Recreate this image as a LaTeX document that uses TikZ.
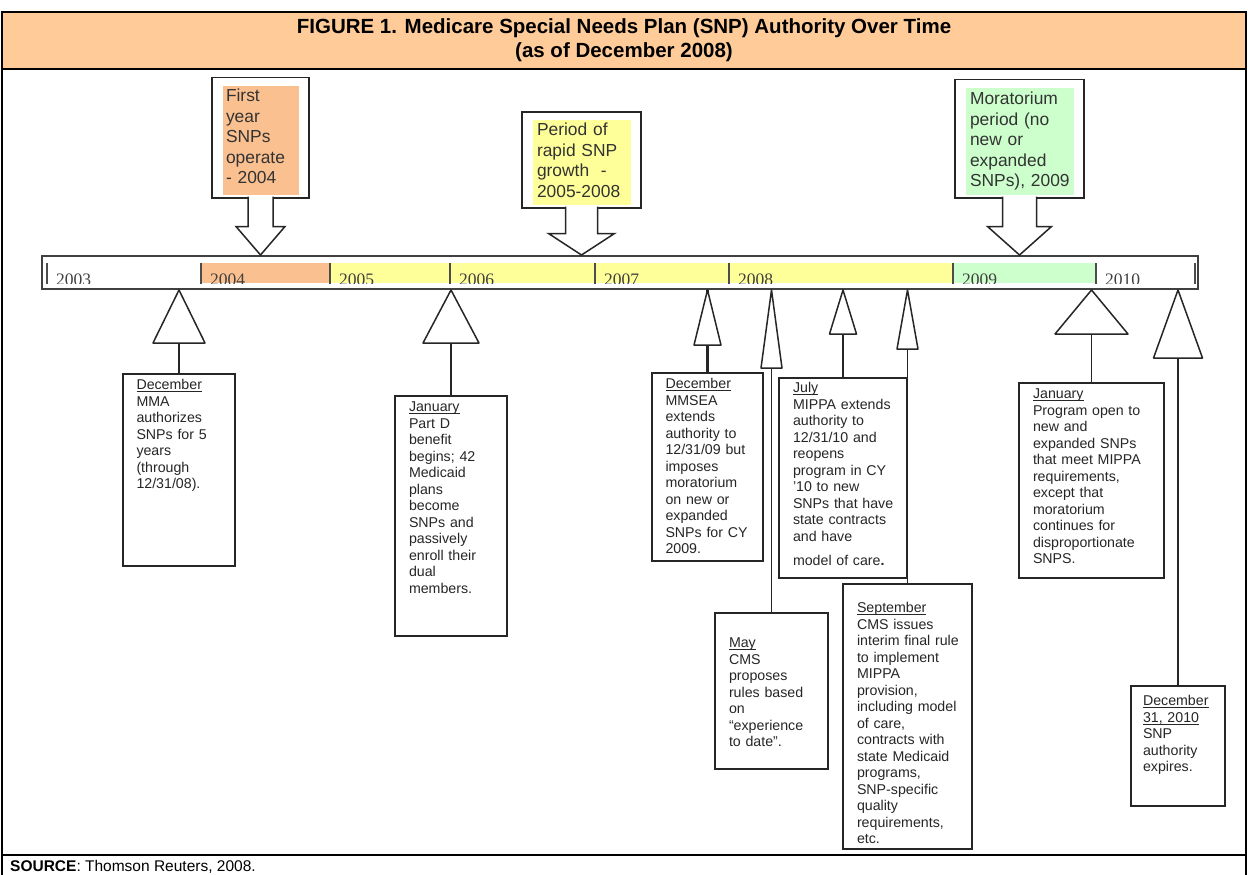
\documentclass[tikz,border=0pt]{standalone}
\usepackage{fontspec}
\setmainfont{Liberation Sans}
\newfontfamily\yearfont{Liberation Serif}
\usetikzlibrary{calc}
\definecolor{titleOrange}{HTML}{FFCC99}
\definecolor{bandOrange}{HTML}{FAC090}
\definecolor{bandYellow}{HTML}{FFFF99}
\definecolor{bandGreen}{HTML}{CCFFCC}
\newcommand{\monthUl}[1]{\setbox0=\hbox{#1}\rlap{\rule[-2.2pt]{\wd0}{0.9pt}}\box0}

\begin{document}
\begin{tikzpicture}[
  x=1pt, y=-1pt,
  frame/.style={draw=black, line width=2.5pt},
  evt/.style={
    draw=black!85, line width=1.5pt, fill=white, anchor=north, inner sep=0pt,
    font=\fontsize{14.2}{16.5}\selectfont, text=black!85
  },
  callout/.style={
    draw=black!85, line width=1.5pt, fill=white, anchor=north, inner sep=0pt,
    font=\fontsize{17.4}{20.5}\selectfont, text=black!80,
    path picture={\fill[#1] ([xshift=11pt,yshift=-8pt]path picture bounding box.north west)
      rectangle ([xshift=-10pt,yshift=2.5pt]path picture bounding box.south east);}
  },
  calloutArrow/.style={draw=black!85, line width=1.5pt, fill=white},
  pointer/.style={draw=black!85, line width=1.5pt, fill=white, line join=round},
  stem/.style={draw=black!85, line width=1.5pt},
  timeBar/.style={draw=black!75, line width=2pt, minimum width=1156pt, minimum height=33pt, inner sep=0pt},
  tick/.style={draw=black!70, line width=1.4pt},
  yearLbl/.style={font=\yearfont\fontsize{17.5}{20}\selectfont, text=black!75, anchor=base west, inner sep=0pt}
]
\useasboundingbox (0,0) rectangle (1248,875);

\node[frame, fill=titleOrange, minimum width=1244pt, minimum height=57pt, inner sep=0pt, align=center,
  font=\bfseries\fontsize{20.5}{24}\selectfont] (title) at (624,40.5)
  {FIGURE 1. Medicare Special Needs Plan (SNP) Authority Over Time\\(as of December 2008)};
\draw[frame] (2,69) -- (2,875);
\draw[frame] (1246,69) -- (1246,875);
\draw[frame] (2,855) -- (1246,855);

\node[timeBar] (bar) at (620,272.5) {};
\fill[bandOrange] (201,263) rectangle (330,283);
\fill[bandYellow] (330,263) rectangle (953,283);
\fill[bandGreen] (953,263) rectangle (1096,283);
\begin{scope}
  \clip (42,263) rectangle (1198,283.5);
  \foreach \x/\yr in {47/2003, 201/2004, 330/2005, 450/2006, 595/2007, 729/2008, 953/2009, 1096/2010}
    \node[yearLbl] (yr\yr) at (\x+9,285) {\yr};
\end{scope}
\foreach \x in {47, 201, 330, 450, 595, 729, 953, 1096, 1195}
  \draw[tick] (\x,263) -- (\x,284);

\node[callout=bandOrange, text width=97pt, text height=24pt, text depth=96pt] (firstYr) at (260.5,77) {%
  \begin{tabular}[t]{@{\hspace{14pt}}l@{}}
  First \\
  year \\
  SNPs \\
  operate \\
  - 2004 \\
  \end{tabular}%
};

\node[callout=bandYellow, text width=119pt, text height=24pt, text depth=72pt] (growth) at (581.5,111) {%
  \begin{tabular}[t]{@{\hspace{15pt}}l@{}}
  Period of \\
  rapid SNP \\
  growth~~- \\
  2005-2008 \\
  \end{tabular}%
};

\node[callout=bandGreen, text width=129pt, text height=25pt, text depth=93pt] (morat) at (1019.5,79) {%
  \begin{tabular}[t]{@{\hspace{15pt}}l@{}}
  Moratorium \\
  period (no \\
  new or \\
  expanded \\
  SNPs), 2009 \\
  \end{tabular}%
};

\node[evt, text width=112pt, text height=16pt, text depth=176pt] (mma) at (179,373) {%
  \begin{tabular}[t]{@{\hspace{13.5pt}}l@{}}
  \monthUl{December} \\
  MMA \\
  authorizes \\
  SNPs for 5 \\
  years \\
  (through \\
  12/31/08). \\
  \end{tabular}%
};

\node[evt, text width=112pt, text height=16pt, text depth=224pt] (partD) at (451,395) {%
  \begin{tabular}[t]{@{\hspace{14pt}}l@{}}
  \monthUl{January} \\
  Part D \\
  benefit \\
  begins; 42 \\
  Medicaid \\
  plans \\
  become \\
  SNPs and \\
  passively \\
  enroll their \\
  dual \\
  members. \\
  \end{tabular}%
};

\node[evt, text width=111pt, text height=16pt, text depth=172pt] (mmsea) at (707.5,372) {%
  \begin{tabular}[t]{@{\hspace{13.5pt}}l@{}}
  \monthUl{December} \\
  MMSEA \\
  extends \\
  authority to \\
  12/31/09 but \\
  imposes \\
  moratorium \\
  on new or \\
  expanded \\
  SNPs for CY \\
  2009. \\
  \end{tabular}%
};

\node[evt, text width=113pt, text height=35pt, text depth=121pt] (cmsMay) at (771.5,612) {%
  \begin{tabular}[t]{@{\hspace{14pt}}l@{}}
  \monthUl{May} \\
  CMS \\
  proposes \\
  rules based \\
  on \\
  “experience \\
  to date”. \\
  \end{tabular}%
};

\node[evt, text width=128pt, text height=15pt, text depth=185pt] (mippa) at (843,377) {%
  \begin{tabular}[t]{@{\hspace{14pt}}l@{}}
  \monthUl{July} \\
  MIPPA extends \\
  authority to \\
  12/31/10 and \\
  reopens \\
  program in CY \\
  ’10 to new \\
  SNPs that have \\
  state contracts \\
  and have \\[7.5pt]
  model of care\textbf{.} \\
  \end{tabular}%
};

\node[evt, text width=129pt, text height=29pt, text depth=236pt] (cmsSept) at (907.5,583) {%
  \begin{tabular}[t]{@{\hspace{14pt}}l@{}}
  \monthUl{September} \\
  CMS issues \\
  interim final rule \\
  to implement \\
  MIPPA \\
  provision, \\
  including model \\
  of care, \\
  contracts with \\
  state Medicaid \\
  programs, \\
  SNP-specific \\
  quality \\
  requirements, \\
  etc. \\
  \end{tabular}%
};

\node[evt, text width=145pt, text height=16pt, text depth=179pt] (openJan) at (1091.5,382) {%
  \begin{tabular}[t]{@{\hspace{14pt}}l@{}}
  \monthUl{January} \\
  Program open to \\
  new and \\
  expanded SNPs \\
  that meet MIPPA \\
  requirements, \\
  except that \\
  moratorium \\
  continues for \\
  disproportionate \\
  SNPS. \\
  \end{tabular}%
};

\node[evt, text width=94pt, text height=20pt, text depth=100pt] (expires) at (1178,685) {%
  \begin{tabular}[t]{@{\hspace{12pt}}l@{}}
  \monthUl{December} \\
  \monthUl{31, 2010} \\
  SNP \\
  authority \\
  expires. \\
  \end{tabular}%
};

\node[anchor=base west, inner sep=0pt, font=\fontsize{15.5}{17}\selectfont] (source) at (10,871)
  {\textbf{SOURCE}: Thomson Reuters, 2008.};

\filldraw[calloutArrow] ($(firstYr.south)+(-12.5,-2)$) -- ++(0,30) -- ++(-12,0)
  -- (firstYr.south |- bar.north) -- ($(firstYr.south)+(24.5,28)$) -- ++(-12,0) -- ++(0,-30);
\filldraw[calloutArrow] ($(growth.south)+(-16,-2)$) -- ++(0,27) -- ++(-17,0)
  -- (growth.south |- bar.north) -- ($(growth.south)+(33,25)$) -- ++(-17,0) -- ++(0,-27);
\filldraw[calloutArrow] ($(morat.south)+(-17,-2)$) -- ++(0,30) -- ++(-15,0)
  -- (morat.south |- bar.north) -- ($(morat.south)+(32,28)$) -- ++(-15,0) -- ++(0,-30);

\draw[stem] (bar.south -| mma.north) -- (mma.north);
\draw[stem] (bar.south -| partD.north) -- (partD.north);
\draw[stem, line width=3pt] (bar.south -| mmsea.north) -- (mmsea.north);
\draw[stem] (bar.south -| cmsMay.north) -- (cmsMay.north);
\draw[stem] (bar.south -| mippa.north) -- (mippa.north);
\draw[stem] (bar.south -| cmsSept.north) -- (cmsSept.north);
\draw[stem] (bar.south -| openJan.north) -- (openJan.north);
\draw[stem] (bar.south -| expires.north) -- (expires.north);

\filldraw[pointer] (bar.south -| mma.north) -- ++(-26,53) -- ++(52,0) -- cycle;
\filldraw[pointer] (bar.south -| partD.north) -- ++(-28,53) -- ++(56,0) -- cycle;
\filldraw[pointer] (bar.south -| mmsea.north) -- ++(-13.5,55) -- ++(27,0) -- cycle;
\filldraw[pointer] (bar.south -| cmsMay.north) -- ++(-10.5,78) -- ++(21,0) -- cycle;
\filldraw[pointer] (bar.south -| mippa.north) -- ++(-13.5,44) -- ++(27,0) -- cycle;
\filldraw[pointer] (bar.south -| cmsSept.north) -- ++(-10.5,59) -- ++(21,0) -- cycle;
\filldraw[pointer] (bar.south -| openJan.north) -- ++(-36.5,44) -- ++(73,0) -- cycle;
\filldraw[pointer] (bar.south -| expires.north) -- ++(-24.5,68) -- ++(49,0) -- cycle;
\end{tikzpicture}
\end{document}
